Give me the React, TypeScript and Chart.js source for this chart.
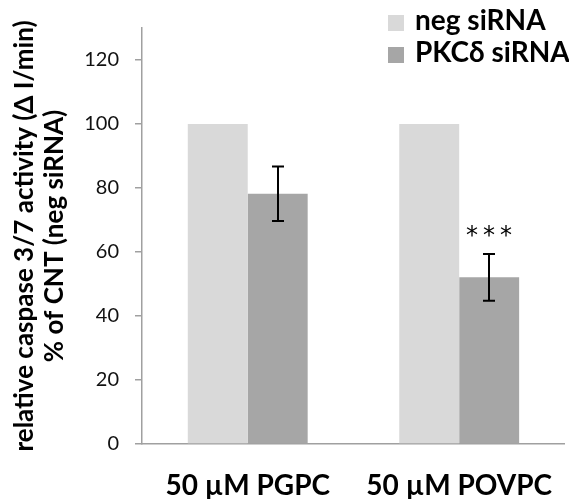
import React, { useEffect, useRef } from "react";
import { Chart, registerables } from "chart.js";

Chart.register(...registerables);

const categories = ["50 µM PGPC", "50 µM POVPC"];
const seriesNames = ["neg siRNA", "PKCδ siRNA"];
const negValues = [100, 100];
const pkcValues = [78.2, 52.1];
const pkcErrors = [8.5, 7.3];
const significance = ["", "***"];
const yTitleLines = ["relative caspase 3/7 activity (Δ I/min)", "% of CNT (neg siRNA)"];

const FONT = "Lato, 'Open Sans', sans-serif";
const AXIS_GREY = "#a0a0a0";

const overlayPlugin = {
  id: "overlay",
  afterDatasetsDraw(chart: any) {
    const ctx = chart.ctx;
    const y = chart.scales.y;
    const meta = chart.getDatasetMeta(1);
    ctx.save();
    ctx.strokeStyle = "#000";
    ctx.lineWidth = 2;
    meta.data.forEach((el: any, i: number) => {
      const v = pkcValues[i];
      const e = pkcErrors[i];
      const yt = y.getPixelForValue(v + e);
      const yb = y.getPixelForValue(v - e);
      const x = Math.round(el.x);
      ctx.beginPath();
      ctx.moveTo(x, yt);
      ctx.lineTo(x, yb);
      ctx.moveTo(x - 6, yt);
      ctx.lineTo(x + 6, yt);
      ctx.moveTo(x - 6, yb);
      ctx.lineTo(x + 6, yb);
      ctx.stroke();
      if (significance[i]) {
        ctx.fillStyle = "#000";
        ctx.font = `24px 'DejaVu Sans'`;
        (ctx as any).letterSpacing = "5px";
        ctx.textAlign = "center";
        ctx.textBaseline = "middle";
        ctx.fillText(significance[i], x + 2.5, yt - 17);
        (ctx as any).letterSpacing = "0px";
      }
    });
    ctx.restore();
  },
  afterDraw(chart: any) {
    const ctx = chart.ctx;
    const area = chart.chartArea;
    ctx.save();
    ctx.fillStyle = "#000";
    ctx.font = `bold 26px ${FONT}`;
    ctx.textAlign = "center";
    ctx.textBaseline = "alphabetic";
    const cy = (area.top + area.bottom) / 2;
    const baselines = [33, 63];
    yTitleLines.forEach((line, i) => {
      ctx.save();
      ctx.translate(baselines[i], cy);
      ctx.rotate(-Math.PI / 2);
      ctx.fillText(line, 0, 0);
      ctx.restore();
    });
    ctx.font = `bold 28px ${FONT}`;
    ctx.textAlign = "left";
    const legendTops = [15, 47];
    chart.data.datasets.forEach((ds: any, i: number) => {
      ctx.fillStyle = ds.backgroundColor;
      ctx.fillRect(388, legendTops[i], 16, 16);
      ctx.fillStyle = "#000";
      ctx.fillText(ds.label, 415, legendTops[i] + 15);
    });
    ctx.restore();
  },
};

export default function App() {
  const ref = useRef<HTMLCanvasElement | null>(null);
  useEffect(() => {
    if (!ref.current) return;
    const chart = new Chart(ref.current, {
      type: "bar",
      data: {
        labels: categories,
        datasets: [
          { label: seriesNames[0], data: negValues, backgroundColor: "#d9d9d9", borderWidth: 0 },
          { label: seriesNames[1], data: pkcValues, backgroundColor: "#a6a6a6", borderWidth: 0 },
        ],
      },
      options: {
        responsive: false,
        animation: false,
        events: [],
        layout: { padding: { left: 0, top: 28, right: 0, bottom: 0 } },
        plugins: { legend: { display: false }, tooltip: { enabled: false }, title: { display: false } },
        datasets: { bar: { barPercentage: 1, categoryPercentage: 0.567 } },
        scales: {
          x: {
            grid: { display: false },
            border: { display: true, color: AXIS_GREY, width: 1.5 },
            ticks: { color: "#000", font: { family: FONT, size: 28, weight: "bold" }, padding: 17, maxRotation: 0 },
            afterFit(scale: any) {
              scale.height = 55;
            },
          },
          y: {
            min: 0,
            max: 130,
            grid: { display: true, drawOnChartArea: false, drawTicks: true, tickLength: 7, color: AXIS_GREY, lineWidth: 1.5 },
            border: { display: true, color: AXIS_GREY, width: 1.5 },
            ticks: { stepSize: 20, color: "#111", font: { family: FONT, size: 20 }, padding: 16 },
            afterBuildTicks(scale: any) {
              scale.ticks = scale.ticks.filter((t: any) => t.value % 20 === 0);
            },
            afterFit(scale: any) {
              scale.width = 142;
            },
          },
        },
      },
      plugins: [overlayPlugin],
    });
    return () => chart.destroy();
  }, []);
  return (
    <div style={{ position: "absolute", left: 0, top: 0, width: 569, height: 499, background: "#fff" }}>
      <canvas ref={ref} width={569} height={499} style={{ display: "block" }} />
    </div>
  );
}
